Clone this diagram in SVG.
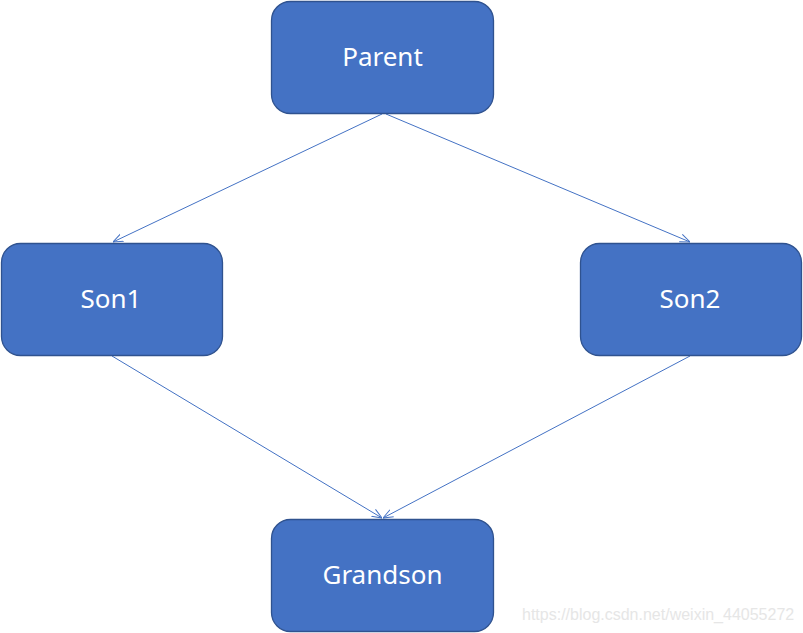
<svg xmlns="http://www.w3.org/2000/svg" width="803" height="633" viewBox="0 0 803 633">
<style>
.node{fill:#4472C4;stroke:#2F528F;stroke-width:1.3}
.lbl{fill:#fff;font-family:"Noto Sans","Open Sans",sans-serif;font-size:26px;text-anchor:middle;dominant-baseline:central}
.edge{stroke:#4472C4;stroke-width:1;fill:none}
.wm{fill:#e6e6e6;font-family:"Liberation Sans",Arial,sans-serif;font-size:16px}
</style>
<defs>
<marker id="arr" viewBox="0 0 10 10" refX="10" refY="5" markerWidth="10" markerHeight="10" markerUnits="userSpaceOnUse" orient="auto">
<path d="M0,1 L10,5 L0,9" fill="none" stroke="#4472C4" stroke-width="1"/>
</marker>
</defs>
<rect width="803" height="633" fill="#fff"/>
<g id="edges">
<line class="edge" x1="382" y1="114" x2="113" y2="242" marker-end="url(#arr)"/>
<line class="edge" x1="386" y1="114" x2="690" y2="242" marker-end="url(#arr)"/>
<line class="edge" x1="112" y1="356" x2="382" y2="518" marker-end="url(#arr)"/>
<line class="edge" x1="690" y1="356" x2="383" y2="518" marker-end="url(#arr)"/>
</g>
<g id="parent"><rect class="node" x="271.5" y="1.5" width="222" height="112" rx="19"/><text class="lbl" x="382.5" y="56">Parent</text></g>
<g id="son1"><rect class="node" x="1.5" y="243.5" width="221" height="112" rx="19"/><text class="lbl" x="111" y="298">Son1</text></g>
<g id="son2"><rect class="node" x="580.5" y="243.5" width="221" height="112" rx="19"/><text class="lbl" x="690" y="298">Son2</text></g>
<g id="grandson"><rect class="node" x="271.5" y="519.5" width="222" height="112" rx="19"/><text class="lbl" x="382.5" y="574">Grandson</text></g>
<text class="wm" x="522" y="620">https://blog.csdn.net/weixin_44055272</text>
</svg>
